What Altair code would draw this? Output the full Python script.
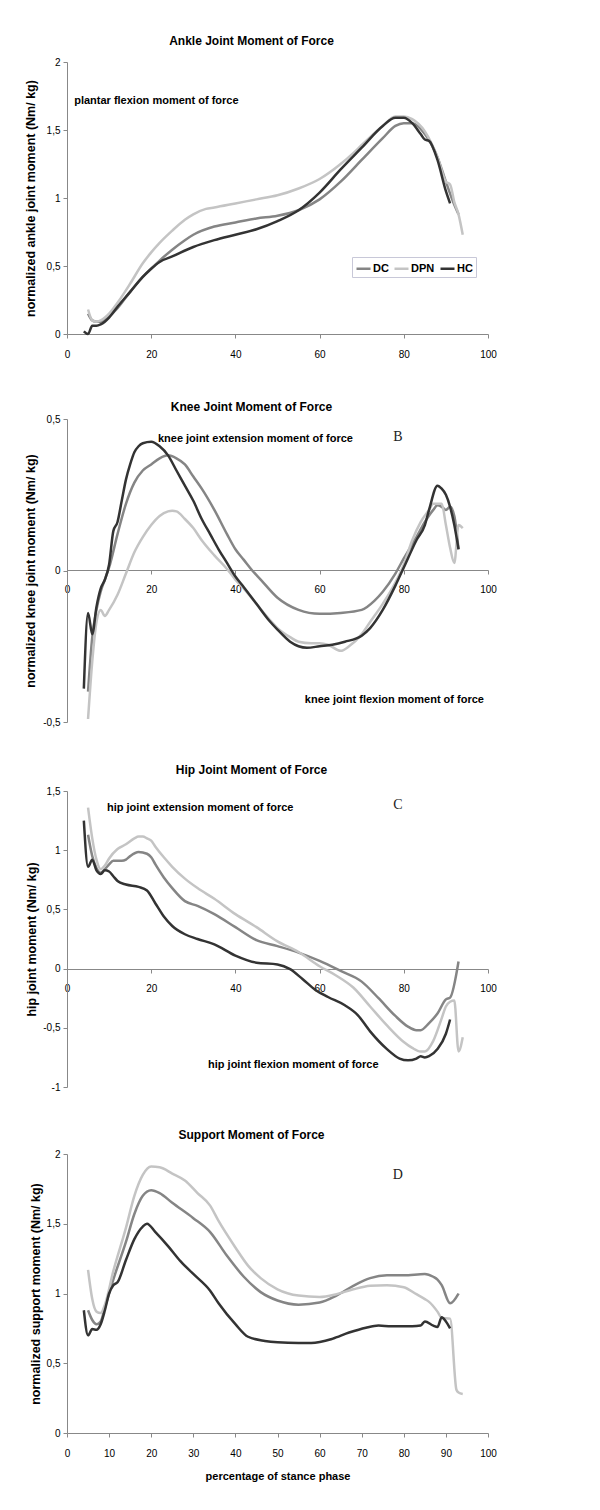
import altair as alt
import pandas as pd

FONT = '"Liberation Sans", Arial, sans-serif'
SERIF = '"Liberation Serif", "Times New Roman", serif'

SERIES = ["DC", "DPN", "HC"]
COLORS = ["#858585", "#c4c4c4", "#333333"]

# ---------------- Ankle ----------------
ankle_dc_x = [5, 6, 7, 8, 10, 12, 15, 18, 20, 22, 25, 28, 30, 35, 40, 45, 50, 55, 60, 65, 70, 75, 78, 80, 82, 85, 88, 90, 92, 93]
ankle_dc_y = [0.15, 0.10, 0.09, 0.09, 0.13, 0.19, 0.31, 0.42, 0.48, 0.54, 0.62, 0.69, 0.73, 0.79, 0.82, 0.85, 0.87, 0.91, 0.99, 1.12, 1.28, 1.44, 1.53, 1.55, 1.55, 1.47, 1.30, 1.12, 0.95, 0.88]
ankle_dpn_x = [5, 6, 7, 8, 10, 12, 15, 18, 20, 22, 25, 28, 30, 33, 35, 40, 45, 50, 55, 60, 65, 68, 70, 75, 78, 80, 82, 85, 88, 90, 91, 92, 93, 94]
ankle_dpn_y = [0.18, 0.10, 0.09, 0.10, 0.15, 0.23, 0.37, 0.52, 0.60, 0.67, 0.76, 0.84, 0.88, 0.92, 0.93, 0.96, 0.99, 1.02, 1.07, 1.14, 1.25, 1.33, 1.39, 1.53, 1.60, 1.60, 1.58, 1.49, 1.30, 1.12, 1.10, 0.97, 0.88, 0.73]
ankle_hc_x = [4, 5, 6, 7, 8, 10, 12, 15, 18, 20, 22, 25, 30, 35, 40, 45, 50, 55, 60, 65, 70, 75, 78, 80, 82, 84, 85, 86, 88, 90, 91]
ankle_hc_y = [0.02, 0.00, 0.06, 0.06, 0.07, 0.12, 0.20, 0.31, 0.42, 0.48, 0.53, 0.57, 0.64, 0.69, 0.73, 0.77, 0.83, 0.91, 1.04, 1.21, 1.37, 1.53, 1.59, 1.59, 1.55, 1.47, 1.43, 1.42, 1.28, 1.05, 0.96]

# ---------------- Knee ----------------
knee_dc_x = [5, 6, 7, 8, 9, 10, 12, 14, 16, 18, 20, 22, 24, 26, 28, 30, 32, 35, 38, 40, 42, 44, 46, 50, 55, 60, 65, 70, 73, 75, 78, 80, 83, 85, 87, 88, 89, 90, 91, 92, 93]
knee_dc_y = [-0.40, -0.22, -0.13, -0.07, -0.03, 0.01, 0.12, 0.22, 0.29, 0.33, 0.35, 0.37, 0.38, 0.37, 0.35, 0.31, 0.27, 0.20, 0.12, 0.07, 0.035, 0.00, -0.03, -0.09, -0.13, -0.143, -0.14, -0.13, -0.10, -0.07, -0.01, 0.04, 0.11, 0.16, 0.20, 0.215, 0.21, 0.20, 0.21, 0.18, 0.07]
knee_dpn_x = [5, 6, 7, 8, 9, 10, 12, 14, 16, 18, 20, 22, 24, 25, 26, 28, 30, 32, 35, 38, 40, 42, 45, 48, 50, 53, 55, 58, 60, 62, 65, 67, 70, 72, 75, 78, 80, 82, 84, 86, 87, 89, 90, 91, 92, 93, 94]
knee_dpn_y = [-0.49, -0.30, -0.17, -0.13, -0.15, -0.13, -0.08, -0.01, 0.06, 0.11, 0.15, 0.18, 0.195, 0.197, 0.195, 0.17, 0.14, 0.10, 0.05, 0.005, -0.03, -0.06, -0.11, -0.16, -0.19, -0.22, -0.235, -0.24, -0.24, -0.245, -0.265, -0.25, -0.21, -0.17, -0.11, -0.04, 0.02, 0.10, 0.16, 0.20, 0.22, 0.22, 0.15, 0.075, 0.025, 0.15, 0.14]
knee_hc_x = [4, 5, 6, 7, 8, 9, 10, 11, 12, 13, 14, 15, 16, 17, 18, 20, 22, 24, 26, 28, 30, 32, 34, 36, 38, 40, 42, 45, 48, 50, 53, 55, 57, 60, 63, 66, 70, 72, 75, 78, 80, 83, 85, 86, 88, 89, 90, 91, 92, 93]
knee_hc_y = [-0.39, -0.14, -0.21, -0.12, -0.06, -0.03, 0.02, 0.13, 0.16, 0.23, 0.30, 0.35, 0.39, 0.41, 0.42, 0.425, 0.41, 0.38, 0.33, 0.28, 0.23, 0.17, 0.12, 0.07, 0.025, -0.02, -0.055, -0.11, -0.165, -0.195, -0.235, -0.25, -0.255, -0.25, -0.245, -0.235, -0.215, -0.19, -0.13, -0.05, 0.01, 0.10, 0.15, 0.20, 0.28, 0.27, 0.25, 0.21, 0.15, 0.07]

# ---------------- Hip ----------------
hip_dc_x = [5, 6, 7, 8, 9, 10, 11, 13, 14, 15, 17, 19, 20, 21, 23, 25, 28, 31, 35, 40, 45, 50, 55, 60, 65, 70, 74, 78, 81, 83, 84, 86, 88, 90, 91, 93]
hip_dc_y = [1.13, 0.95, 0.85, 0.81, 0.84, 0.88, 0.91, 0.91, 0.92, 0.95, 0.985, 0.97, 0.94, 0.88, 0.77, 0.68, 0.57, 0.53, 0.46, 0.35, 0.24, 0.19, 0.135, 0.065, -0.02, -0.11, -0.25, -0.40, -0.49, -0.52, -0.52, -0.46, -0.38, -0.26, -0.245, 0.06]
hip_dpn_x = [5, 6, 7, 8, 9, 10, 12, 14, 16, 17, 18, 19, 20, 21, 23, 25, 28, 31, 35, 40, 45, 50, 55, 60, 64, 68, 72, 76, 80, 82, 84, 85, 87, 89, 90, 91, 92, 93, 94]
hip_dpn_y = [1.36, 1.10, 0.92, 0.84, 0.87, 0.93, 1.01, 1.05, 1.10, 1.115, 1.115, 1.10, 1.08, 1.03, 0.94, 0.86, 0.76, 0.68, 0.59, 0.46, 0.35, 0.23, 0.14, 0.02, -0.06, -0.16, -0.32, -0.48, -0.62, -0.67, -0.70, -0.70, -0.61, -0.42, -0.32, -0.28, -0.27, -0.70, -0.58]
hip_hc_x = [4, 5, 6, 7, 8, 9, 10, 11, 12, 14, 17, 19, 21, 23, 25, 28, 31, 35, 40, 45, 50, 53, 56, 59, 62, 66, 69, 72, 76, 79, 81, 83, 84, 85, 86, 88, 90, 91]
hip_hc_y = [1.25, 0.86, 0.92, 0.83, 0.80, 0.83, 0.82, 0.78, 0.74, 0.71, 0.69, 0.66, 0.55, 0.44, 0.36, 0.29, 0.25, 0.205, 0.11, 0.05, 0.035, -0.005, -0.09, -0.18, -0.24, -0.31, -0.39, -0.53, -0.68, -0.76, -0.775, -0.76, -0.74, -0.75, -0.74, -0.68, -0.55, -0.43]

# ---------------- Support ----------------
sup_dc_x = [5, 6, 7, 8, 9, 11, 14, 16, 18, 20, 22, 25, 30, 34, 38, 42, 46, 50, 55, 60, 64, 68, 72, 76, 80, 85, 87, 88, 89, 91, 93]
sup_dc_y = [0.88, 0.81, 0.78, 0.80, 0.90, 1.10, 1.37, 1.57, 1.70, 1.74, 1.72, 1.65, 1.54, 1.44, 1.27, 1.12, 1.01, 0.95, 0.92, 0.935, 0.985, 1.055, 1.11, 1.13, 1.13, 1.14, 1.12, 1.10, 1.06, 0.93, 1.00]
sup_dpn_x = [5, 6, 7, 8, 9, 11, 14, 16, 18, 20, 22, 25, 28, 31, 34, 36, 40, 43, 46, 50, 55, 60, 64, 68, 72, 76, 80, 83, 85, 86, 88, 89, 91, 92.5, 93, 94]
sup_dpn_y = [1.17, 0.96, 0.87, 0.86, 0.92, 1.16, 1.47, 1.70, 1.85, 1.91, 1.905, 1.86, 1.81, 1.72, 1.63, 1.52, 1.33, 1.20, 1.11, 1.03, 0.985, 0.975, 0.995, 1.03, 1.055, 1.06, 1.045, 0.995, 0.96, 0.94, 0.87, 0.825, 0.82, 0.31, 0.29, 0.28]
sup_hc_x = [4, 5, 6, 7, 8, 9, 10, 11, 12, 14, 16, 18, 19, 21, 24, 27, 30, 34, 36, 40, 43, 47, 50, 55, 58, 63, 67, 71, 74, 77, 82, 84, 85, 87, 88, 89, 90, 91]
sup_hc_y = [0.88, 0.70, 0.745, 0.74, 0.78, 0.88, 1.00, 1.06, 1.08, 1.24, 1.39, 1.48, 1.50, 1.44, 1.34, 1.23, 1.14, 1.02, 0.93, 0.78, 0.69, 0.66, 0.65, 0.645, 0.645, 0.675, 0.72, 0.755, 0.77, 0.765, 0.765, 0.77, 0.80, 0.77, 0.76, 0.83, 0.80, 0.75]

# ---------------- Titles / annotations ----------------
panel_titles = ["Ankle Joint Moment of Force", "Knee Joint Moment of Force",
                "Hip Joint Moment of Force", "Support Moment of Force"]
y_titles = ["normalized ankle joint moment (Nm/ kg)", "normalized knee joint moment (Nm/ kg)",
            "hip joint  moment (Nm/ kg)", "normalized support moment (Nm/ kg)"]
x_title = "percentage of stance phase"

ankle_notes = ["plantar flexion moment of force"]
ankle_notes_x = [1.7]
ankle_notes_y = [1.713]
knee_notes = ["knee joint extension moment of force", "knee joint flexion moment of force"]
knee_notes_x = [21.6, 56.5]
knee_notes_y = [0.434, -0.427]
hip_notes = ["hip joint extension moment of force", "hip joint flexion moment of force"]
hip_notes_x = [9.5, 33.5]
hip_notes_y = [1.357, -0.818]

letters = ["B", "C", "D"]
letters_x = [78.6, 78.6, 78.6]
letters_y = [0.44, 1.383, 1.85]


def long_df(xs_list, ys_list):
    rows = []
    for name, xs, ys in zip(SERIES, xs_list, ys_list):
        for x, y in zip(xs, ys):
            rows.append({"pct": x, "val": y, "group": name})
    return pd.DataFrame(rows)


LABEL_EXPR = "replace(toString(datum.value), '.', ',')"
W = 421
NO_FRAME = alt.ViewBackground(stroke="transparent", strokeWidth=0)


def panel(df, title, ytitle, ydom, yvals, h, xoff, xvals, notes, letter, title_offset,
          ytitle_x, legend=None, xtitle=None, xtitle_pad=13, xtitle_size=11):
    color = alt.Color("group:N", scale=alt.Scale(domain=SERIES, range=COLORS),
                      legend=legend)
    if xtitle is not None:
        x_axis = alt.Axis(values=xvals, offset=xoff, grid=False, tickSize=4,
                          labelPadding=11, labelFlush=False, labelOverlap=False,
                          title=xtitle, titlePadding=xtitle_pad,
                          titleFontSize=xtitle_size)
    else:
        x_axis = alt.Axis(values=xvals, offset=xoff, grid=False, tickSize=4,
                          labelPadding=10, labelFlush=False, labelOverlap=False,
                          title=None)
    y_axis = alt.Axis(values=yvals, grid=False, tickSize=4, labelPadding=3,
                      labelExpr=LABEL_EXPR, title=ytitle, titleX=ytitle_x,
                      titleY=h / 2, titleAngle=270, titleAlign="center",
                      titleBaseline="middle", titleFontSize=12.5,
                      labelFlush=False, labelOverlap=False)
    xs = alt.Scale(domain=[0, 100], nice=False, zero=False)
    ys = alt.Scale(domain=ydom, nice=False, zero=False)
    X = alt.X("pct:Q", scale=xs, axis=x_axis)
    Y = alt.Y("val:Q", scale=ys, axis=y_axis)
    lines = alt.Chart(df).mark_line(strokeWidth=2.5, interpolate="monotone").encode(
        x=X, y=Y, color=color)
    layers = [lines]
    if notes is not None:
        ndf = pd.DataFrame({"pct": notes[1], "val": notes[2], "label": notes[0]})
        layers.append(alt.Chart(ndf).mark_text(
            align="left", baseline="middle", font=FONT, fontWeight="bold",
            fontSize=11, color="black").encode(x=X, y=Y, text="label:N"))
    if letter is not None:
        ldf = pd.DataFrame({"pct": [letter[1]], "val": [letter[2]], "label": [letter[0]]})
        layers.append(alt.Chart(ldf).mark_text(
            align="center", baseline="middle", font=SERIF, fontSize=14,
            color="#222222").encode(x=X, y=Y, text="label:N"))
    return alt.layer(*layers).properties(
        width=W, height=h, view=NO_FRAME,
        title=alt.TitleParams(title, offset=title_offset, dx=-26, anchor="middle",
                              frame="group", font=FONT, fontSize=12,
                              fontWeight="bold", color="black"),
    )


legend_a = alt.Legend(orient="none", legendX=285, legendY=195, direction="horizontal",
                      title=None, symbolType="stroke", symbolSize=196,
                      symbolStrokeWidth=2.5, labelFont=FONT, labelFontWeight="bold",
                      labelFontSize=11, labelColor="black", columnPadding=0,
                      labelOffset=1, padding=3, strokeColor="#c8c8d8",
                      fillColor="white")

x20 = [0, 20, 40, 60, 80, 100]
x10 = [0, 10, 20, 30, 40, 50, 60, 70, 80, 90, 100]

# panel A gets an empty x-axis title to widen the gap below it (as in the reference)
pa = panel(long_df([ankle_dc_x, ankle_dpn_x, ankle_hc_x], [ankle_dc_y, ankle_dpn_y, ankle_hc_y]),
           panel_titles[0], y_titles[0], [0, 2], [0, 0.5, 1, 1.5, 2], 272, 0, x20,
           (ankle_notes, ankle_notes_x, ankle_notes_y), None, 9, -37, legend=legend_a,
           xtitle=" ", xtitle_pad=0, xtitle_size=5)
pb = panel(long_df([knee_dc_x, knee_dpn_x, knee_hc_x], [knee_dc_y, knee_dpn_y, knee_hc_y]),
           panel_titles[1], y_titles[1], [-0.5, 0.5], [-0.5, 0, 0.5], 303, -152, x20,
           (knee_notes, knee_notes_x, knee_notes_y), (letters[0], letters_x[0], letters_y[0]), 0, -37)
pc = panel(long_df([hip_dc_x, hip_dpn_x, hip_hc_x], [hip_dc_y, hip_dpn_y, hip_hc_y]),
           panel_titles[2], y_titles[2], [-1, 1.5], [-1, -0.5, 0, 0.5, 1, 1.5], 296, -118, x20,
           (hip_notes, hip_notes_x, hip_notes_y), (letters[1], letters_x[1], letters_y[1]), 9, -36)
pd_ = panel(long_df([sup_dc_x, sup_dpn_x, sup_hc_x], [sup_dc_y, sup_dpn_y, sup_hc_y]),
            panel_titles[3], y_titles[3], [0, 2], [0, 0.5, 1, 1.5, 2], 279, 0, x10,
            None, (letters[2], letters_x[2], letters_y[2]), 7, -32, xtitle=x_title,
            xtitle_pad=12)

chart = alt.vconcat(pa, pb, pc, pd_, spacing=37).resolve_scale(color="independent").properties(
    padding={"left": 15, "top": 27, "right": 10, "bottom": 5}
).configure_view(stroke="transparent", strokeWidth=0).configure_axis(
    domainColor="#b4b4cc", tickColor="#b4b4cc", domainWidth=1, tickWidth=1,
    labelFont=FONT, labelFontWeight="bold", labelFontSize=11, labelColor="black",
    titleFont=FONT, titleFontWeight="bold", titleFontSize=12, titleColor="black",
).configure(background="white")

chart.save("out.html", embed_options={"renderer": "svg", "actions": False})
